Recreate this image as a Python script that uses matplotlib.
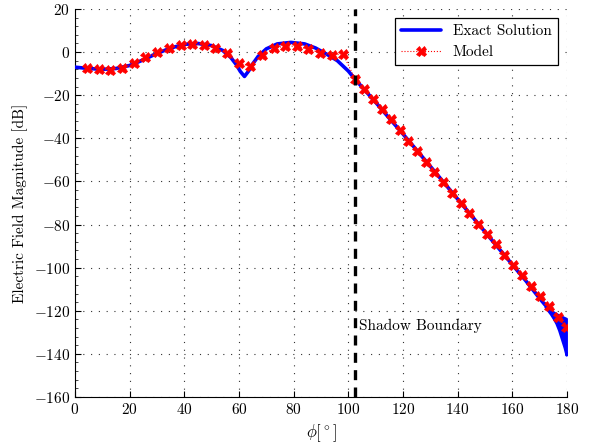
import matplotlib
matplotlib.use("Agg")
import matplotlib.pyplot as plt
from matplotlib.ticker import MultipleLocator

plt.rcParams["font.family"] = "serif"
plt.rcParams["font.serif"] = ["cmr10", "DejaVu Serif"]
plt.rcParams["mathtext.fontset"] = "cm"
plt.rcParams["axes.formatter.use_mathtext"] = True
plt.rcParams["axes.unicode_minus"] = True

# ------------------------------------------------------------------
# data
# ------------------------------------------------------------------
phi_exact = [0, 5, 10, 15, 20, 25, 30, 35, 40, 45, 50, 54, 57, 59, 60.5, 62,
             63.5, 65, 67, 70, 74, 79, 84, 88, 92, 96, 100, 102.4, 105, 110,
             115, 120, 130, 140, 150, 160, 165, 170, 172]
exact_db = [-7.0, -7.6, -8.0, -7.6, -6.2, -3.6, -0.6, 1.9, 3.6, 4.0, 3.0, 0.8,
            -2.5, -5.8, -9.0, -11.3, -8.8, -5.5, -2.0, 1.5, 3.8, 4.5, 3.8, 1.9,
            -0.9, -4.0, -8.8, -12.5, -16.2, -23.3, -30.7, -38.0, -53.0, -68.2,
            -83.4, -98.6, -106.2, -114.3, -117.3]

# fast oscillation of the exact solution close to 180 deg (upper/lower envelope)
phi_env = [172, 174, 175, 176, 177, 178, 179, 179.7]
env_hi = [-117.3, -119.6, -120.6, -121.4, -122.0, -122.6, -123.2, -123.6]
env_lo = [-118.2, -121.5, -123.5, -125.8, -129.0, -133.0, -137.0, -140.5]

phi_model = [4.5, 8.7, 12.8, 17.2, 21.6, 25.7, 29.9, 34.3, 38.7, 42.8, 47.2,
             51.3, 55.7, 59.9, 64.0, 68.4, 72.8, 76.9, 81.3, 85.4, 89.8, 93.9,
             98.0, 102.4, 105.8, 109.2, 112.4, 115.6, 118.8, 121.9, 125.1,
             128.3, 131.5, 134.7, 137.9, 141.1, 144.3, 147.6, 150.8, 153.9,
             157.1, 160.4, 163.7, 166.9, 170.1, 173.3, 176.6, 179.8]
model_db = [-7.5, -8.0, -8.3, -7.4, -4.9, -2.3, 0.1, 1.8, 3.2, 3.6, 3.3, 1.9,
            -0.5, -5.2, -6.4, -1.5, 1.8, 2.8, 2.7, 1.3, -0.3, -1.5, -0.7,
            -12.3, -17.1, -21.8, -26.5, -31.2, -36.3, -41.1, -45.9, -50.8,
            -55.6, -60.4, -65.2, -70.0, -74.8, -79.6, -84.5, -89.1, -94.0,
            -98.7, -103.6, -108.4, -113.3, -117.9, -122.9, -127.6]

shadow_boundary = 102.4

fig = plt.figure(figsize=(5.91, 4.45), dpi=100)
ax = fig.add_axes([0.1269, 0.1079, 0.8325, 0.8719])

ax.plot(phi_exact, exact_db, color="blue", lw=2.6, label="Exact Solution",
        solid_capstyle="round", zorder=3)
ax.fill_between(phi_env, env_hi, env_lo, color="blue", edgecolor="blue",
                lw=1.8, zorder=3)
ax.plot(phi_model, model_db, color="red", ls=":", lw=0.8, marker="X",
        markersize=7.2, markeredgewidth=0.5, label="Model", zorder=4)

ax.axvline(shadow_boundary, color="black", lw=2.4, ls=(0, (3, 2.2)), zorder=5)
ax.text(shadow_boundary + 1.5, -127, "Shadow Boundary", fontsize=11,
        va="center", ha="left")

ax.set_xlim(0, 180)
ax.set_ylim(-160, 20)
ax.xaxis.set_major_locator(MultipleLocator(20))
ax.yaxis.set_major_locator(MultipleLocator(20))
ax.yaxis.set_minor_locator(MultipleLocator(4))
ax.tick_params(direction="in", length=4, labelsize=11)
ax.tick_params(axis="y", which="minor", direction="in", length=2, width=0.5)
ax.grid(True, which="major", color="0.2", ls=(0, (1, 6)), lw=0.8)

for side in ["top", "right"]:
    ax.spines[side].set_visible(False)

ax.set_xlabel(r"$\phi[^\circ]$", fontsize=12)
ax.set_ylabel("Electric Field Magnitude [dB]", fontsize=11)

leg = ax.legend(loc="upper right", fontsize=11, fancybox=False,
                framealpha=1, edgecolor="black", borderaxespad=0.6,
                handlelength=2.6)
leg.get_frame().set_linewidth(0.9)

plt.savefig("out.png", dpi=100)
